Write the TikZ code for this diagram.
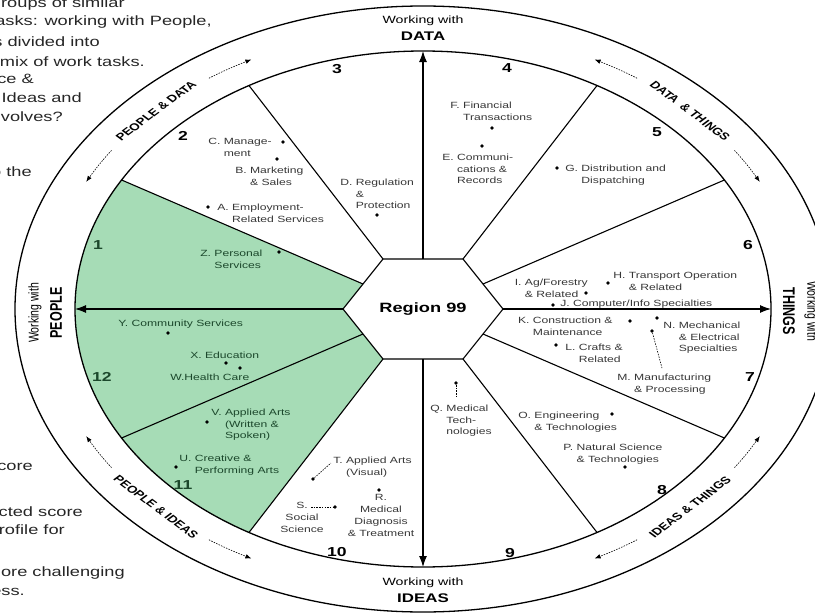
\documentclass[tikz,border=0pt]{standalone}
\usepackage{fontspec}
\setmainfont{Liberation Sans}
\usetikzlibrary{arrows.meta}
\definecolor{wgreen}{RGB}{166,220,182}
\definecolor{gtext}{RGB}{28,72,44}
\definecolor{ltext}{RGB}{55,55,55}
\begin{document}
\begin{tikzpicture}[x=1pt,y=-1pt,
  lbl/.style={font=\fontsize{9}{11.8}\selectfont, text=ltext, inner sep=0pt, align=left, anchor=north west, xscale=1.35},
  glbl/.style={lbl, text=gtext},
  clbl/.style={lbl, align=center, anchor=north},
  num/.style={font=\bfseries\fontsize{13}{15}\selectfont, inner sep=0pt, xscale=1.35},
  gnum/.style={num, text=gtext},
  wwith/.style={font=\fontsize{10.5}{12}\selectfont, inner sep=0pt, xscale=1.35},
  axis/.style={font=\bfseries\fontsize{12.5}{14}\selectfont, inner sep=0pt, xscale=1.35},
  arcl/.style={font=\bfseries\fontsize{10}{12}\selectfont, inner sep=0pt, xscale=1.35},
  side/.style={font=\fontsize{13.5}{15}\selectfont, text=black!85, inner sep=0pt, anchor=east, xscale=1.35},
  dot/.style={circle, fill=black, inner sep=0pt, minimum size=3.6pt},
  leader/.style={line width=0.6pt, dash pattern=on 1.5pt off 1.2pt},
  ring/.style={line width=0.6pt, dash pattern=on 1.5pt off 1.2pt, -{Latex[length=6pt,width=4.5pt]}},
  spoke/.style={line width=1.1pt},
  axarrow/.style={line width=1.1pt, -{Latex[length=11pt,width=8pt]}},
  rim/.style={line width=1.3pt}
]
\useasboundingbox (0,0) rectangle (815,613);
\clip (0,0) rectangle (815,613);

% hexagon points
\coordinate (h0) at (503,309);
\coordinate (h30) at (483,284);
\coordinate (h60) at (463,259);
\coordinate (h90) at (423,259);
\coordinate (h120) at (383,259);
\coordinate (h150) at (363,284);
\coordinate (h180) at (343,309);
\coordinate (h210) at (363,334);
\coordinate (h240) at (383,359);
\coordinate (h270) at (423,359);
\coordinate (h300) at (463,359);
\coordinate (h330) at (483,334);
% inner ellipse points
\foreach \t in {0,30,...,330} \coordinate (e\t) at ({423+348*cos(\t)},{309-258*sin(\t)});

% green sectors
\fill[wgreen] (h150) -- plot[domain=150:240, samples=40, variable=\a] ({423+348*cos(\a)},{309-258*sin(\a)}) -- (h240) -- (h210) -- (h180) -- cycle;

% rims
\draw[rim] (423,309) ellipse [x radius=348pt, y radius=258pt];
\draw[rim] (423,309) ellipse [x radius=408pt, y radius=303pt];

% spokes
\foreach \t in {30,60,120,150,210,240,300,330} \draw[spoke] (h\t) -- (e\t);
\foreach \t in {0,90,180,270} \draw[axarrow] (h\t) -- (e\t);

% hexagon
\draw[spoke] (h0) -- (h60) -- (h120) -- (h180) -- (h240) -- (h300) -- cycle;
\node[font=\bfseries\fontsize{13.5}{15}\selectfont, inner sep=0pt, xscale=1.35] (reg) at (423,309) {Region 99};

% ring arrows
\draw[ring] plot[domain=124.5:117, samples=6, smooth, variable=\a] ({423+378*cos(\a)},{309-280*sin(\a)});
\draw[ring] plot[domain=145.5:153, samples=6, smooth, variable=\a] ({423+378*cos(\a)},{309-280*sin(\a)});
\draw[ring] plot[domain=55.5:63, samples=6, smooth, variable=\a] ({423+378*cos(\a)},{309-280*sin(\a)});
\draw[ring] plot[domain=34.5:27, samples=6, smooth, variable=\a] ({423+378*cos(\a)},{309-280*sin(\a)});
\draw[ring] plot[domain=214.5:207, samples=6, smooth, variable=\a] ({423+378*cos(\a)},{309-280*sin(\a)});
\draw[ring] plot[domain=235.5:243, samples=6, smooth, variable=\a] ({423+378*cos(\a)},{309-280*sin(\a)});
\draw[ring] plot[domain=304.5:297, samples=6, smooth, variable=\a] ({423+378*cos(\a)},{309-280*sin(\a)});
\draw[ring] plot[domain=325.5:333, samples=6, smooth, variable=\a] ({423+378*cos(\a)},{309-280*sin(\a)});

% ring labels
\node[arcl, rotate=45] (pd) at (156,111) {PEOPLE \& DATA};
\node[arcl, rotate=-45] (dt) at (690,111) {DATA\enspace\& THINGS};
\node[arcl, rotate=-45] (pi) at (156,507) {PEOPLE \& IDEAS};
\node[arcl, rotate=45] (it) at (690,507) {IDEAS \& THINGS};

% axis labels
\node[wwith] (wd) at (423,21) {Working with};
\node[axis] (ad) at (423,36) {DATA};
\node[wwith] (wi) at (423,583) {Working with};
\node[axis] (ai) at (423,598) {IDEAS};
\node[wwith, rotate=90] (wp) at (35,313) {Working with};
\node[axis, rotate=90] (ap) at (56,313) {PEOPLE};
\node[axis, rotate=-90] (at) at (789,311) {THINGS};
\node[wwith, rotate=-90] (wt) at (811,311) {Working with};

% region numbers
\node[gnum] (n1) at (98,245) {1};
\node[num] (n2) at (183,136) {2};
\node[num] (n3) at (337,69) {3};
\node[num] (n4) at (507,68) {4};
\node[num] (n5) at (657,132) {5};
\node[num] (n6) at (748,245) {6};
\node[num] (n7) at (750,377) {7};
\node[num] (n8) at (662,490) {8};
\node[num] (n9) at (510,553) {9};
\node[num] (n10) at (337,552) {10};
\node[gnum] (n11) at (183,485) {11};
\node[gnum] (n12) at (102,377) {12};

% career areas
\node[lbl] (lC) at (208,138.5) {C.~Manage-\\\phantom{C.~}ment};
\node[dot] (dC) at (283,142) {};
\node[lbl] (lB) at (235,166.5) {B.~Marketing\\\phantom{B.~}\&~Sales};
\node[dot] (dB) at (277,159) {};
\node[lbl] (lA) at (217,203.5) {A.~Employment-\\\phantom{A.~}Related Services};
\node[dot] (dA) at (208,207) {};
\node[glbl] (lZ) at (200,249.5) {Z.~Personal\\\phantom{Z.~}Services};
\node[dot] (dZ) at (279,252) {};
\node[lbl] (lD) at (340,178.5) {D.~Regulation\\\phantom{D.~}\&\\\phantom{D.~}Protection};
\node[dot] (dD) at (377,215) {};
\node[lbl] (lF) at (450,101.5) {F.~Financial\\\phantom{F.~}Transactions};
\node[dot] (dF) at (492,128) {};
\node[lbl] (lE) at (442,153.5) {E.~Communi-\\\phantom{E.~}cations \&\\\phantom{E.~}Records};
\node[dot] (dE) at (482,146) {};
\node[lbl] (lG) at (565,164.5) {G.~Distribution and\\\phantom{G.~}Dispatching};
\node[dot] (dG) at (557,168) {};
\node[lbl] (lH) at (613,271.5) {H.~Transport Operation\\\phantom{H.~}\&~Related};
\node[dot] (dH) at (608,283) {};
\node[lbl, anchor=north east] (lI) at (588,278.5) {I.~Ag/Forestry\\\phantom{I.~}\&~Related};
\node[dot] (dI) at (586,293) {};
\node[lbl] (lJ) at (560,299.5) {J.~Computer/Info Specialties};
\node[dot] (dJ) at (553,305) {};
\node[lbl, anchor=north east] (lK) at (621,316.5) {K.~Construction \&\\\phantom{K.~}Maintenance\hphantom{n \&}};
\node[dot] (dK) at (630,321) {};
\node[lbl] (lN) at (663,321.5) {N.~Mechanical\\\phantom{N.~}\&~Electrical\\\phantom{N.~}Specialties};
\node[dot] (dN) at (657,318) {};
\node[lbl] (lL) at (565,343.5) {L.~Crafts \&\\\phantom{L.~}Related};
\node[dot] (dL) at (556,345) {};
\node[lbl] (lM) at (617,373.5) {M.~Manufacturing\\\phantom{M.~}\&~Processing};
\node[dot] (dM) at (652,331) {};
\coordinate (mM) at (662,368);
\draw[leader] (dM) -- (mM);
\node[lbl] (lO) at (518,411.5) {O.~Engineering\\\phantom{O.~}\&~Technologies};
\node[dot] (dO) at (612,414) {};
\node[lbl] (lP) at (563,443.5) {P.~Natural Science\\\phantom{P.~}\&~Technologies};
\node[dot] (dP) at (625,467) {};
\node[lbl] (lQ) at (430,404.5) {Q.~Medical\\\phantom{Q.~}Tech-\\\phantom{Q.~}nologies};
\node[dot] (dQ) at (456,383) {};
\coordinate (mQ) at (456,396);
\draw[leader] (dQ) -- (mQ);
\node[lbl] (lT) at (333,456.5) {T.~Applied Arts\\\phantom{T.~}(Visual)};
\node[dot] (dT) at (313,479) {};
\coordinate (mT) at (331,463);
\draw[leader] (dT) -- (mT);
\node[clbl] (lR) at (381,494.5) {R.\\Medical\\Diagnosis\\\&~Treatment};
\node[dot] (dR) at (379,490) {};
\node[clbl] (lS) at (302,502.5) {S.\\Social\\Science};
\node[dot] (dS) at (335,507) {};
\coordinate (mS) at (311,507);
\draw[leader] (mS) -- (dS);
\node[glbl] (lV) at (211,408.5) {V.~Applied Arts\\\phantom{V.~}(Written \&\\\phantom{V.~}Spoken)};
\node[dot] (dV) at (207,422) {};
\node[glbl] (lU) at (179,454.5) {U.~Creative \&\\\phantom{U.~}Performing Arts};
\node[dot] (dU) at (176,467) {};
\node[glbl] (lY) at (118,319.5) {Y.~Community Services};
\node[dot] (dY) at (168,333) {};
\node[glbl] (lX) at (190,351.5) {X.~Education};
\node[dot] (dX) at (226,363) {};
\node[glbl] (lW) at (170,373.5) {W.Health Care};
\node[dot] (dW) at (240,368) {};

% cut-off side text
\node[side] (s1) at (125,4) {roups of similar};
\node[side] (s2) at (212,22) {asks: working with People,};
\node[side] (s3) at (100,42) {s divided into};
\node[side] (s4) at (145,62) {mix of work tasks.};
\node[side] (s5) at (34,79) {ce \&};
\node[side] (s6) at (82,98) {Ideas and};
\node[side] (s7) at (63,117) {volves?};
\node[side] (s8) at (32,172) {o the};
\node[side] (s9) at (33,467) {core};
\node[side] (s10) at (83,512) {cted score};
\node[side] (s11) at (65,530) {rofile for};
\node[side] (s12) at (125,573) {ore challenging};
\node[side] (s13) at (25,592) {ress.};
\end{tikzpicture}
\end{document}
